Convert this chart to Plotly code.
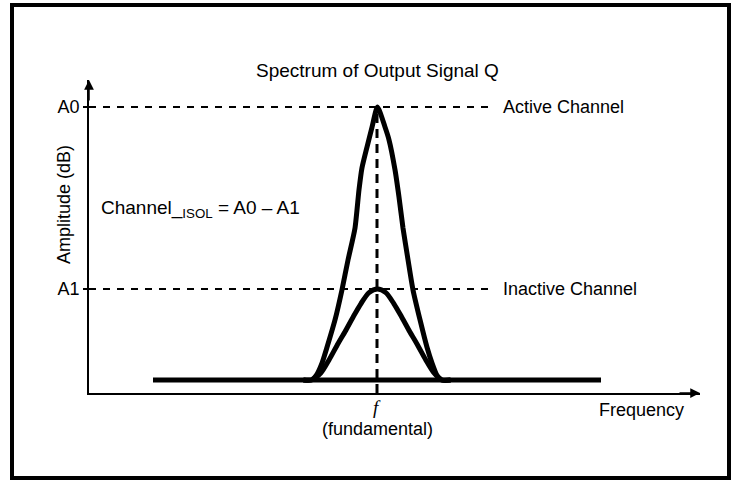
import plotly.graph_objects as go

# ---- data (frequency offset from fundamental, amplitude in arbitrary dB units) ----
baseline_freq = [-14, 14]
baseline_amp = [0, 0]

active_freq = [-4.6, -4.1, -3.8, -3.45, -3.125, -2.625, -2.19, -1.81, -1.375, -1.125, -0.94, -0.625, -0.31, 0.03,
               0.5, 0.75, 1.125, 1.375, 1.625, 1.94, 2.25, 2.69, 3.125, 3.45, 3.75, 4.05, 4.6]
active_amp = [0, 0, 0.5, 1.8, 3.6, 6.6, 9.9, 13.2, 16.7, 20.9, 23.3, 25.6, 27.8, 30,
              27.8, 26.4, 23.1, 20.1, 16.7, 13.2, 9.9, 6.6, 3.6, 1.8, 0.5, 0, 0]

inactive_freq = [-4.6, -4.1, -3.5, -3.0, -2.5, -2.0, -1.5, -1.0, -0.5, 0.03, 0.55, 1.05, 1.55, 2.05, 2.55, 3.05, 3.55, 4.05, 4.6]
inactive_amp = [0, 0, 0.8, 2.2, 3.8, 5.3, 6.9, 8.4, 9.6, 10, 9.6, 8.4, 6.9, 5.3, 3.8, 2.2, 0.8, 0, 0]

level_values = [30, 10]
level_ticks = ["A0", "A1"]
level_names = ["Active Channel", "Inactive Channel"]

fundamental = 0
x_range = [-18, 20.1875]
y_range = [-1.4286, 32.967]

FONT = "Liberation Sans, Arial, Helvetica, sans-serif"
FS = 18

fig = go.Figure()

# dashed level lines
for v in level_values:
    fig.add_trace(go.Scatter(x=[x_range[0], 7.375], y=[v, v], mode="lines",
                             line=dict(color="black", width=2, dash="7px,7px"),
                             hoverinfo="skip", showlegend=False))

# flat noise floor
fig.add_trace(go.Scatter(x=baseline_freq, y=baseline_amp, mode="lines",
                         line=dict(color="black", width=5), showlegend=False))
# curves
fig.add_trace(go.Scatter(x=inactive_freq, y=inactive_amp, mode="lines",
                         line=dict(color="black", width=5, shape="spline", smoothing=0.8),
                         showlegend=False))
fig.add_trace(go.Scatter(x=active_freq, y=active_amp, mode="lines",
                         line=dict(color="black", width=5, shape="spline", smoothing=0.6),
                         showlegend=False))

# vertical dashed line at fundamental
fig.add_trace(go.Scatter(x=[fundamental, fundamental], y=[y_range[0], level_values[0]], mode="lines",
                         line=dict(color="black", width=3, dash="9px,6px"),
                         hoverinfo="skip", showlegend=False))

annotations = []
# axis arrows
annotations.append(dict(x=x_range[0], y=y_range[1], xref="x", yref="y", ax=0, ay=22,
                        showarrow=True, arrowhead=2, arrowsize=1.3, arrowwidth=1.5,
                        arrowcolor="black", text=""))
annotations.append(dict(x=x_range[1], y=y_range[0], xref="x", yref="y", ax=-22, ay=0,
                        showarrow=True, arrowhead=2, arrowsize=1.3, arrowwidth=1.5,
                        arrowcolor="black", text=""))
# level names
for v, name in zip(level_values, level_names):
    annotations.append(dict(x=7.75, y=v, xref="x", yref="y", text=name, showarrow=False,
                            xanchor="left", yanchor="middle", font=dict(size=FS)))
# title
annotations.append(dict(x=fundamental, y=(393 - 71) / 313, xref="x", yref="paper",
                        text="Spectrum of Output Signal Q", showarrow=False,
                        xanchor="center", yanchor="middle", font=dict(size=FS + 1)))
# y title
annotations.append(dict(x=(64 - 89) / 611, y=(393 - 205) / 313, xref="paper", yref="paper",
                        text="Amplitude (dB)", textangle=-90, showarrow=False,
                        xanchor="center", yanchor="middle", font=dict(size=FS)))
# channel isolation formula
annotations.append(dict(x=-17.4, y=18.8, xref="x", yref="y",
                        text="Channel_<sub>ISOL</sub> = A0 – A1", showarrow=False,
                        xanchor="left", yanchor="middle", font=dict(size=FS + 1)))
# fundamental label
annotations.append(dict(x=fundamental, y=(393 - 407) / 313, xref="x", yref="paper",
                        text="<i>f</i>", showarrow=False, xanchor="center", yanchor="middle",
                        font=dict(size=FS + 1, family="Liberation Serif, Times New Roman, serif")))
annotations.append(dict(x=fundamental, y=(393 - 429) / 313, xref="x", yref="paper",
                        text="(fundamental)", showarrow=False, xanchor="center", yanchor="middle",
                        font=dict(size=FS)))
# x title
annotations.append(dict(x=13.75, y=(393 - 410) / 313, xref="x", yref="paper",
                        text="Frequency", showarrow=False, xanchor="left", yanchor="middle",
                        font=dict(size=FS)))

fig.update_layout(
    width=737, height=481,
    margin=dict(l=89, r=37, t=80, b=88, pad=0),
    paper_bgcolor="white", plot_bgcolor="white",
    font=dict(family=FONT, size=FS, color="black"),
    annotations=annotations,
    shapes=[dict(type="rect", xref="paper", yref="paper",
                 x0=(12 - 89) / 611, x1=(729 - 89) / 611,
                 y0=(393 - 478) / 313, y1=(393 - 5) / 313,
                 line=dict(color="black", width=4), fillcolor="rgba(0,0,0,0)", layer="below")],
    showlegend=False,
)
fig.update_xaxes(range=x_range, showgrid=False, zeroline=False, showline=True,
                 linecolor="black", linewidth=1.5, showticklabels=False, ticks="")
fig.update_yaxes(range=y_range, showgrid=False, zeroline=False, showline=True,
                 linecolor="black", linewidth=1.5, tickvals=level_values, ticktext=level_ticks,
                 ticks="outside", ticklen=4, tickwidth=1.5, tickcolor="black",
                 tickfont=dict(size=FS))

fig.write_html("out.html", config={"displayModeBar": False},
               post_script="document.body.style.margin='0';document.body.style.overflow='hidden';")
